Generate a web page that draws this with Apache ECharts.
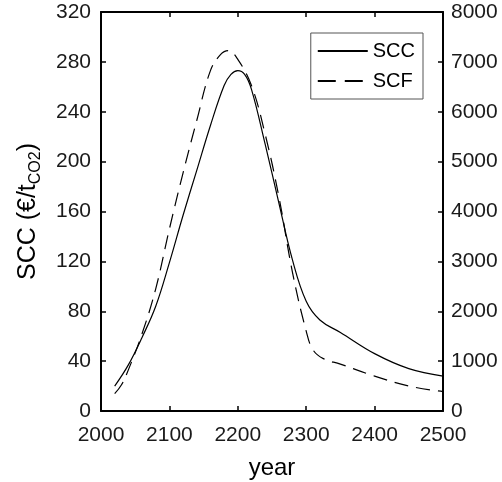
<!DOCTYPE html>
<html style="height: 100%">
<head>
    <meta charset="UTF-8" />
    <title>SCC / SCF</title>
    <script src="https://cdn.jsdelivr.net/npm/echarts@6/dist/echarts.min.js"></script>
</head>
<body style="height: 100%; margin: 0; background: #fff">
    <div id="main" style="width: 502px; height: 482px"></div>
    <script type="text/javascript">
        // SCC, left axis (€/t CO2)
        var sccYears  = [2020, 2040, 2060, 2080, 2100, 2120, 2140, 2160, 2180, 2190, 2200, 2210, 2220, 2240, 2260, 2280, 2300, 2320, 2350, 2400, 2450, 2500];
        var sccValues = [20,   37,   59,   84,   119,  157,  193,  229,  261,  270,  273,  270,  258,  214,  167,  121,  88,   73,   63,   46,   34,   28];
        // SCF, right axis
        var scfYears  = [2020, 2030, 2040, 2060, 2080, 2100, 2120, 2140, 2160, 2175, 2186, 2200, 2220, 2240, 2260, 2280, 2300, 2310, 2325, 2350, 2400, 2450, 2500];
        var scfValues = [350,  525,  825,  1550, 2450, 3650, 4775, 5825, 6825, 7150, 7225, 7050, 6525, 5550, 4300, 2775, 1600, 1225, 1050, 940,  700,  500,  390];

        var font = 'Liberation Sans, Arial, sans-serif';
        var chart = echarts.init(document.getElementById('main'));

        function pairs(xs, ys) {
            return xs.map(function (x, i) { return [x, ys[i]]; });
        }
        function line() {
            return { show: true, onZero: false, lineStyle: { color: '#000', width: 2 } };
        }
        function tick() {
            return { show: true, inside: true, length: 5, lineStyle: { color: '#000', width: 1.5 } };
        }
        function label(margin) {
            return {
                fontFamily: font, fontSize: 21, color: '#1a1a1a', margin: margin,
                formatter: function (v) { return String(v); }
            };
        }

        chart.setOption({
            animation: false,
            grid: { left: 101, right: 59, top: 12, bottom: 71, outerBoundsMode: 'none' },
            legend: {
                right: 79, top: 33,
                orient: 'vertical',
                itemWidth: 50, itemHeight: 10, itemGap: 10,
                padding: [8, 8, 8, 6],
                borderColor: '#555', borderWidth: 1,
                itemStyle: { opacity: 0 },
                textStyle: { fontFamily: font, fontSize: 20, color: '#000' },
                data: ['SCC', { name: 'SCF', lineStyle: { type: [18, 9] } }]
            },
            xAxis: [{
                type: 'value', min: 2000, max: 2500, interval: 100,
                name: 'year', nameLocation: 'middle', nameGap: 45,
                nameTextStyle: { fontFamily: font, fontSize: 24, color: '#000' },
                axisLine: line(), axisTick: tick(),
                axisLabel: label(14),
                splitLine: { show: false }
            }, {
                type: 'value', min: 2000, max: 2500, interval: 100, position: 'top',
                axisLine: line(), axisTick: tick(),
                axisLabel: { show: false }, splitLine: { show: false }
            }],
            yAxis: [{
                type: 'value', min: 0, max: 320, interval: 40,
                name: '{a|SCC (€/t}{s|CO2}{a|)}', nameLocation: 'middle', nameGap: 57,
                nameTextStyle: {
                    rich: {
                        a: { fontFamily: font, fontSize: 25, color: '#000' },
                        s: { fontFamily: font, fontSize: 16, color: '#000', padding: [16, 0, 0, 0] }
                    }
                },
                axisLine: line(), axisTick: tick(),
                axisLabel: label(10),
                splitLine: { show: false }
            }, {
                type: 'value', min: 0, max: 8000, interval: 1000, position: 'right',
                axisLine: line(), axisTick: tick(),
                axisLabel: label(8),
                splitLine: { show: false }
            }],
            series: [{
                name: 'SCC', type: 'line', smooth: 0.4, showSymbol: false, symbol: 'none',
                xAxisIndex: 0, yAxisIndex: 0,
                lineStyle: { color: '#000', width: 1.2 },
                itemStyle: { color: '#000' },
                data: pairs(sccYears, sccValues)
            }, {
                name: 'SCF', type: 'line', smooth: 0.4, showSymbol: false, symbol: 'none',
                xAxisIndex: 0, yAxisIndex: 1,
                lineStyle: { color: '#000', width: 1.2, type: [14, 8] },
                itemStyle: { color: '#000' },
                data: pairs(scfYears, scfValues)
            }]
        });
    </script>
</body>
</html>
